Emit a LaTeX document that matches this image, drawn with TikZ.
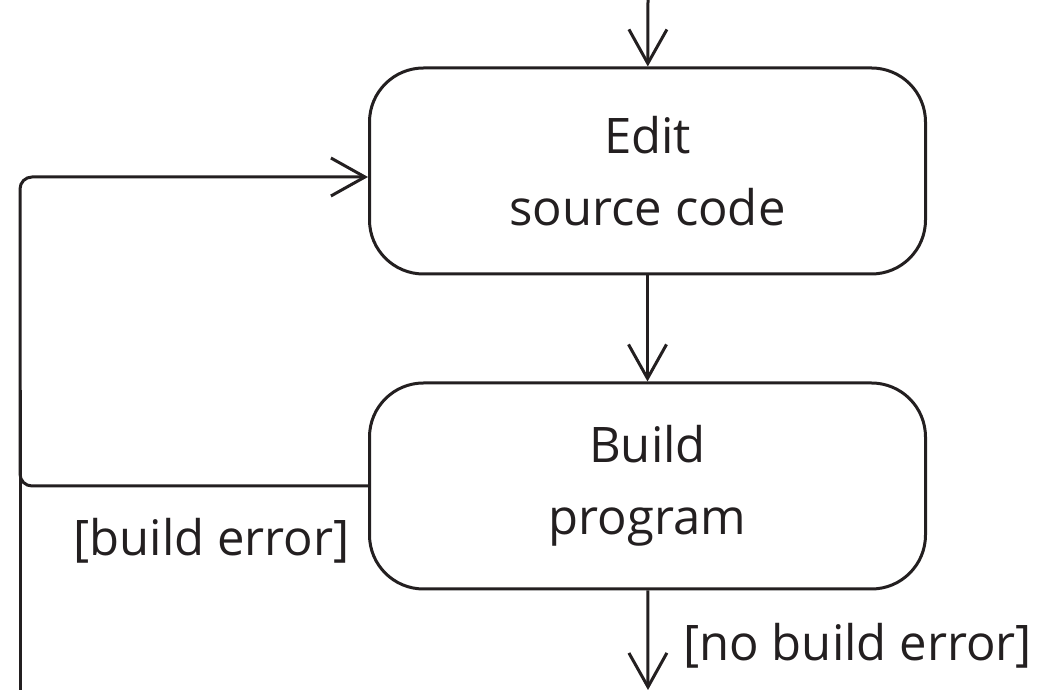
\documentclass[tikz,border=0pt]{standalone}
\usepackage{fontspec}
\setmainfont{Open Sans}
\usetikzlibrary{arrows.meta,positioning}
\definecolor{ink}{RGB}{35,31,32}

\begin{document}
\begin{tikzpicture}[
    x=0.5pt,y=0.5pt,
    node distance=53pt,
    activity/.style={rectangle,rounded corners=27pt,draw=ink,line width=1.5pt,
      minimum width=278pt,minimum height=103pt,inner sep=0pt,align=center,
      text=ink,font=\fontsize{24.5}{36}\selectfont},
    guard/.style={text=ink,font=\fontsize{24.5}{30}\selectfont,inner sep=0pt},
    flow/.style={-{Straight Barb[length=17pt,width=19pt,line width=1.5pt]},line width=1.5pt,draw=ink},
    plain/.style={line width=1.5pt,draw=ink}
  ]
    \useasboundingbox (0,0) rectangle (1055,690);

    \node[activity] (edit) at (647.5,519) {Edit\\source code};
    \node[activity,below=of edit] (build) {Build\\program};

    \coordinate (entry) at (648,690);
    \coordinate (exit) at (648,0);
    \coordinate (looptop) at (20,513);
    \coordinate (loopbot) at (20,0);
    \coordinate (merge) at (20,300);

    \node[guard,anchor=base east] (failed) at (350,134) {[build error]};
    \node[guard,anchor=base west] (passed) at (683,29) {[no build error]};

    \draw[flow] (entry) -- (edit);
    \draw[flow] (edit) -- (build);
    \draw[flow] (build) -- (exit);
    \draw[flow,rounded corners=6pt] (build.west) -| (looptop) -- (looptop -| edit.west);
    \draw[plain] (loopbot) -- (merge);
  \end{tikzpicture}
\end{document}
